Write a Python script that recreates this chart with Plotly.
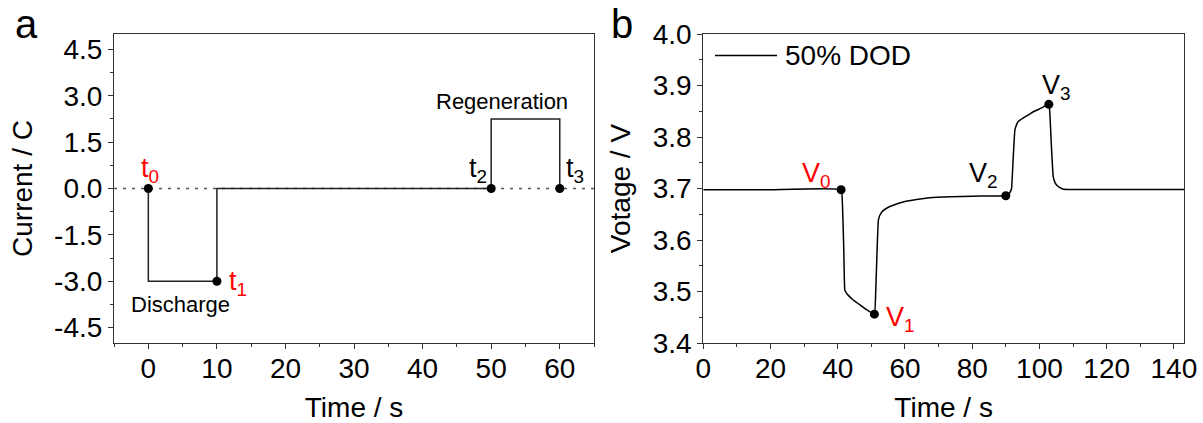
import plotly.graph_objects as go

# ---- Panel a: current profile (C-rate vs time) ----
current_time = [0, 0, 10, 10, 50, 50, 60, 60]
current_rate = [0, -3, -3, 0, 0, 2.25, 2.25, 0]
point_time = [0, 10, 50, 60]
point_rate = [0, -3, 0, 0]
point_labels = ["t<sub>0</sub>", "t<sub>1</sub>", "t<sub>2</sub>", "t<sub>3</sub>"]
baseline_range = [-5, 65]

a_xticks = [0, 10, 20, 30, 40, 50, 60]
a_yticks = [-4.5, -3.0, -1.5, 0.0, 1.5, 3.0, 4.5]
a_yticktext = ["-4.5", "-3.0", "-1.5", "0.0", "1.5", "3.0", "4.5"]

# ---- Panel b: voltage response at 50% DOD ----
volt_time = [0, 20, 41, 41.4, 41.8, 42.1, 42.6, 43.1, 44.5, 46.6, 48.5, 50.9,
             51.3, 51.7, 52.1, 52.6, 53.5, 55.5, 57.5, 59.5, 63, 67.4, 73.7, 80, 85, 90.0,
             90.6, 91.2, 91.7, 92.2, 92.7, 93.2, 93.7, 95, 96.5, 98.2, 100.5, 102.8,
             103.1, 103.5, 104.1, 104.6, 105.1, 106, 107.1, 110, 125, 143]
volt_value = [3.6977, 3.6977, 3.6977, 3.67, 3.58, 3.503, 3.497, 3.493, 3.484, 3.474, 3.465, 3.456,
              3.50, 3.58, 3.639, 3.649, 3.657, 3.665, 3.670, 3.674, 3.678, 3.682, 3.684, 3.685, 3.6855, 3.686,
              3.688, 3.692, 3.70, 3.76, 3.814, 3.824, 3.830, 3.836, 3.842, 3.849, 3.856, 3.8635,
              3.846, 3.79, 3.723, 3.712, 3.707, 3.702, 3.6985, 3.698, 3.698, 3.698]
v_point_time = [41, 50.9, 90.0, 102.8]
v_point_value = [3.6977, 3.456, 3.686, 3.8635]
v_point_labels = ["V<sub>0</sub>", "V<sub>1</sub>", "V<sub>2</sub>", "V<sub>3</sub>"]
v_label_colors = ["#ff0000", "#ff0000", "#000000", "#000000"]

b_xticks = [0, 20, 40, 60, 80, 100, 120, 140]
b_yticks = [3.4, 3.5, 3.6, 3.7, 3.8, 3.9, 4.0]
b_yticktext = ["3.4", "3.5", "3.6", "3.7", "3.8", "3.9", "4.0"]

FONT = "Liberation Sans, Arial, sans-serif"
LINE = "#222222"
AXIS = "#333333"

fig = go.Figure()

# dotted zero reference line across panel a
fig.add_trace(go.Scatter(x=baseline_range, y=[0, 0], mode="lines",
                         line=dict(color="#555555", width=1.3, dash="3px,6px"),
                         xaxis="x", yaxis="y", showlegend=False, hoverinfo="skip"))
fig.add_trace(go.Scatter(x=current_time, y=current_rate, mode="lines",
                         line=dict(color=LINE, width=1.5),
                         xaxis="x", yaxis="y", showlegend=False))
fig.add_trace(go.Scatter(x=point_time, y=point_rate, mode="markers",
                         marker=dict(color="black", size=9),
                         xaxis="x", yaxis="y", showlegend=False))

fig.add_trace(go.Scatter(x=volt_time, y=volt_value, mode="lines",
                         line=dict(color="black", width=1.5, shape="spline", smoothing=0.3),
                         xaxis="x2", yaxis="y2", name="50% DOD", showlegend=False))
fig.add_trace(go.Scatter(x=v_point_time, y=v_point_value, mode="markers",
                         marker=dict(color="black", size=9),
                         xaxis="x2", yaxis="y2", showlegend=False))

axis_common = dict(showline=True, linecolor=AXIS, linewidth=1.2, mirror=True,
                   ticks="outside", ticklen=5, tickwidth=1.2, tickcolor=AXIS,
                   showgrid=False, zeroline=False, automargin=False,
                   tickfont=dict(family=FONT, size=28, color="black"),
                   title_font=dict(family=FONT, size=28, color="black"))

fig.update_layout(
    width=1203, height=423,
    margin=dict(l=0, r=0, t=0, b=0, autoexpand=False),
    paper_bgcolor="white", plot_bgcolor="white",
    font=dict(family=FONT, color="black"),
    xaxis=dict(domain=[0.0948, 0.4938], range=[-5, 65], tickvals=a_xticks, ticklabelstandoff=-5,
               minor=dict(dtick=5, tick0=0, ticks="outside", ticklen=3, tickcolor=AXIS),
               title=dict(text="Time / s", standoff=22), anchor="y", **axis_common),
    yaxis=dict(domain=[0.1891, 0.9196], range=[-5, 5], tickvals=a_yticks, ticktext=a_yticktext,
               minor=dict(dtick=0.75, tick0=0, ticks="outside", ticklen=3, tickcolor=AXIS),
               title=dict(text="Current / C", standoff=13), anchor="x", **axis_common),
    xaxis2=dict(domain=[0.5846, 0.9842], range=[0, 143], tickvals=b_xticks, ticklabelstandoff=-5,
                minor=dict(dtick=10, tick0=0, ticks="outside", ticklen=3, tickcolor=AXIS),
                title=dict(text="Time / s", standoff=22), anchor="y2", **axis_common),
    yaxis2=dict(domain=[0.1891, 0.9196], range=[3.4, 4.0], tickvals=b_yticks, ticktext=b_yticktext,
                minor=dict(dtick=0.05, tick0=3.4, ticks="outside", ticklen=3, tickcolor=AXIS),
                title=dict(text="Votage / V", standoff=13), anchor="x2", **axis_common),
)

# time-point labels on panel a
t_specs = [
    dict(xanchor="center", yanchor="bottom", xshift=2, yshift=0, color="#ff0000"),
    dict(xanchor="left", yanchor="middle", xshift=10, yshift=-2, color="#ff0000"),
    dict(xanchor="right", yanchor="bottom", xshift=-2, yshift=0, color="#000000"),
    dict(xanchor="left", yanchor="bottom", xshift=4, yshift=0, color="#000000"),
]
for tx, ty, lbl, spec in zip(point_time, point_rate, point_labels, t_specs):
    fig.add_annotation(x=tx, y=ty, xref="x", yref="y", text=lbl, showarrow=False,
                       xanchor=spec["xanchor"], yanchor=spec["yanchor"],
                       xshift=spec["xshift"], yshift=spec["yshift"],
                       font=dict(family=FONT, size=27, color=spec["color"]))

fig.add_annotation(x=4.75, y=-3.77, xref="x", yref="y", text="Discharge", showarrow=False,
                   font=dict(family=FONT, size=22, color="black"))
fig.add_annotation(x=51.6, y=2.81, xref="x", yref="y", text="Regeneration", showarrow=False,
                   font=dict(family=FONT, size=22, color="black"))

# voltage-point labels on panel b
v_specs = [
    dict(xanchor="right", yanchor="bottom", xshift=-8, yshift=-4),
    dict(xanchor="left", yanchor="middle", xshift=10, yshift=-5),
    dict(xanchor="right", yanchor="bottom", xshift=-6, yshift=2),
    dict(xanchor="center", yanchor="bottom", xshift=8, yshift=-2),
]
for vx, vy, lbl, col, spec in zip(v_point_time, v_point_value, v_point_labels, v_label_colors, v_specs):
    fig.add_annotation(x=vx, y=vy, xref="x2", yref="y2", text=lbl, showarrow=False,
                       xanchor=spec["xanchor"], yanchor=spec["yanchor"],
                       xshift=spec["xshift"], yshift=spec["yshift"],
                       font=dict(family=FONT, size=27, color=col))

# legend entry for the voltage curve
fig.add_shape(type="line", xref="paper", yref="paper",
              x0=715 / 1203, x1=777 / 1203, y0=1 - 55.5 / 423, y1=1 - 55.5 / 423,
              line=dict(color="black", width=1.5))
fig.add_annotation(x=783 / 1203, y=1 - 55.5 / 423, xref="paper", yref="paper",
                   text="50% DOD", showarrow=False, xanchor="left", yanchor="middle",
                   font=dict(family=FONT, size=28, color="black"))

# panel letters
fig.add_annotation(x=13 / 1203, y=1.0, xref="paper", yref="paper", text="a", showarrow=False,
                   xanchor="left", yanchor="top", font=dict(family=FONT, size=40, color="black"))
fig.add_annotation(x=609 / 1203, y=1.0, xref="paper", yref="paper", text="b", showarrow=False,
                   xanchor="left", yanchor="top", font=dict(family=FONT, size=40, color="black"))

fig.write_html("out.html")
